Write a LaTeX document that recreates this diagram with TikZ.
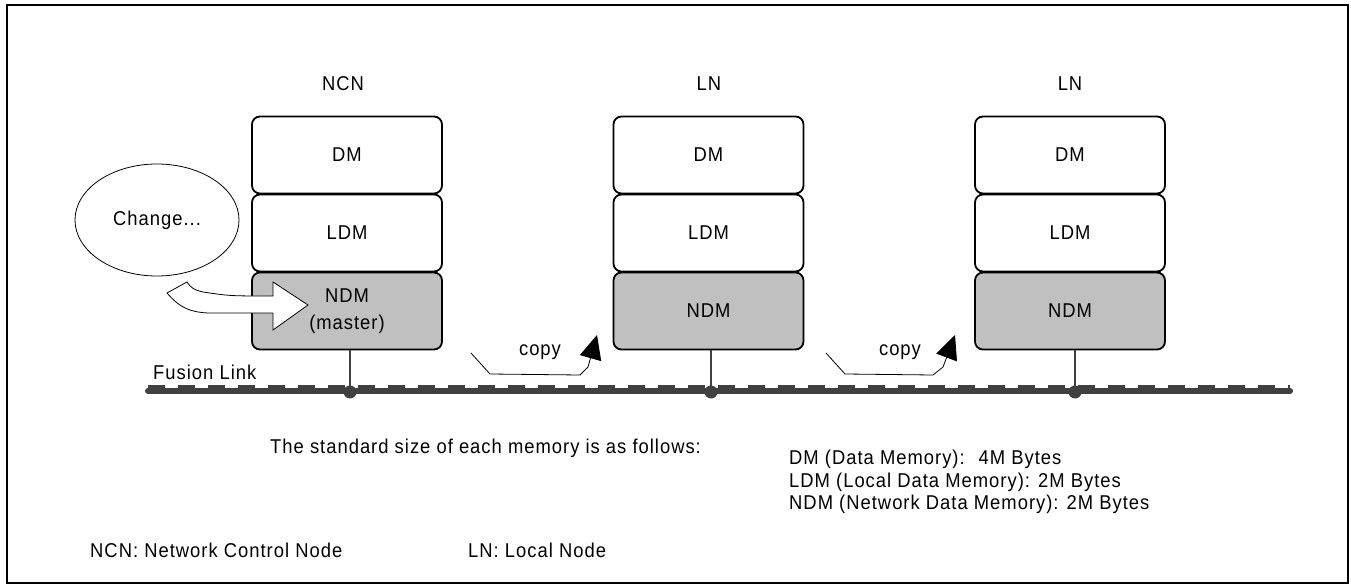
\documentclass[tikz,border=0pt]{standalone}
\usepackage{fontspec}
\setmainfont{Liberation Sans}[LetterSpace=5.0, FakeStretch=0.92]
\usetikzlibrary{shapes.geometric,arrows.meta}
\definecolor{busgray}{RGB}{64,64,64}
\definecolor{ndmgray}{RGB}{192,192,192}
\begin{document}
\begin{tikzpicture}[x=1pt,y=-1pt,
  txt/.style={font=\fontsize{20}{22.5}\selectfont, inner sep=0pt},
  memcell/.style={draw, line width=1.8pt, rounded corners=8pt,
    minimum width=190pt, minimum height=77pt, inner sep=0pt,
    font=\fontsize{20}{27}\selectfont, align=center},
  netcell/.style={memcell, fill=ndmgray},
  tap/.style={draw=busgray, line width=1.5pt},
  tapdot/.style={circle, fill=busgray, minimum size=13pt, inner sep=0pt},
  copyarrow/.style={line width=0.8pt, -{Triangle[length=24pt,width=22pt]}}]
\useasboundingbox (0,0) rectangle (1351,585);
% outer frame
\draw[line width=2pt] (7,5) rectangle (1348,583);

% node labels
\node[txt] (ncnlab) at (343,84) {NCN};
\node[txt] (ln1lab) at (709,84) {LN};
\node[txt] (ln2lab) at (1070,84) {LN};

% memory stacks
\node[memcell] (dm0)  at (347,155) {DM};
\node[memcell] (ldm0) at (347,233) {LDM};
\node[netcell] (ndm0) at (347,311) {NDM\\(master)};

\node[memcell] (dm1)  at (708.5,155) {DM};
\node[memcell] (ldm1) at (708.5,233) {LDM};
\node[netcell] (ndm1) at (708.5,311) {NDM};

\node[memcell] (dm2)  at (1070,155) {DM};
\node[memcell] (ldm2) at (1070,233) {LDM};
\node[netcell] (ndm2) at (1070,311) {NDM};

% change bubble and its hollow arrow
\node[draw, ellipse, line width=0.8pt, minimum width=164pt, minimum height=112pt,
  font=\fontsize{20}{22}\selectfont] (chg) at (157,220) {Change...};
\draw[line width=0.8pt, fill=white]
  (167,293) -- (187,282) .. controls (191,288) and (194,290) .. (203,292)
  .. controls (230,296) .. (273,296) -- (273,282) -- (308,305) -- (273,330)
  -- (273,313) -- (208,313) .. controls (190,312) and (180,308) .. (167,293) -- cycle;

% Fusion Link bus
\coordinate (busL) at (148,391);
\coordinate (busR) at (1290,391);
\draw[busgray, line width=6pt, line cap=round] (busL) -- (busR);
\draw[busgray, line width=3pt, dash pattern=on 17pt off 13pt]
  ([yshift=4.5pt]busL) -- ([yshift=4.5pt]busR);
\node[txt, anchor=west] (fl) at (153,372) {Fusion Link};

% taps from the NDM cells onto the bus
\node[tapdot] (t0) at (350,392) {};
\node[tapdot] (t1) at (711,392) {};
\node[tapdot] (t2) at (1075,392) {};
\draw[tap] (ndm0.south -| t0) -- (t0.center);
\draw[tap] (ndm1.south -| t1) -- (t1.center);
\draw[tap] (ndm2.south -| t2) -- (t2.center);

% copy arrows
\node[txt] (cp1) at (540,352) {copy};
\node[txt] (cp2) at (900,352) {copy};
\coordinate (a1) at (471,353);
\coordinate (a2) at (490,374);
\coordinate (a3) at (580,375);
\coordinate (a4) at (588,367);
\coordinate (a5) at (597,335);
\draw[copyarrow] (a1) -- (a2) -- (a3) -- (a4) -- (a5);
\coordinate (b1) at (826,353);
\coordinate (b2) at (845,374);
\coordinate (b3) at (933,375);
\coordinate (b4) at (943,367);
\coordinate (b5) at (955,335);
\draw[copyarrow] (b1) -- (b2) -- (b3) -- (b4) -- (b5);

% notes
\node[txt, anchor=west] (std) at (270,448) {The standard size of each memory is as follows:};
\node[txt, anchor=north west, align=left] (sizes) at (789,450)
  {DM (Data Memory):\hspace{14pt}4M Bytes\\LDM (Local Data Memory): 2M Bytes\\NDM (Network Data Memory): 2M Bytes};
\node[txt, anchor=west] (leg1) at (90,550) {NCN: Network Control Node};
\node[txt, anchor=west] (leg2) at (468,550) {LN: Local Node};
\end{tikzpicture}
\end{document}
